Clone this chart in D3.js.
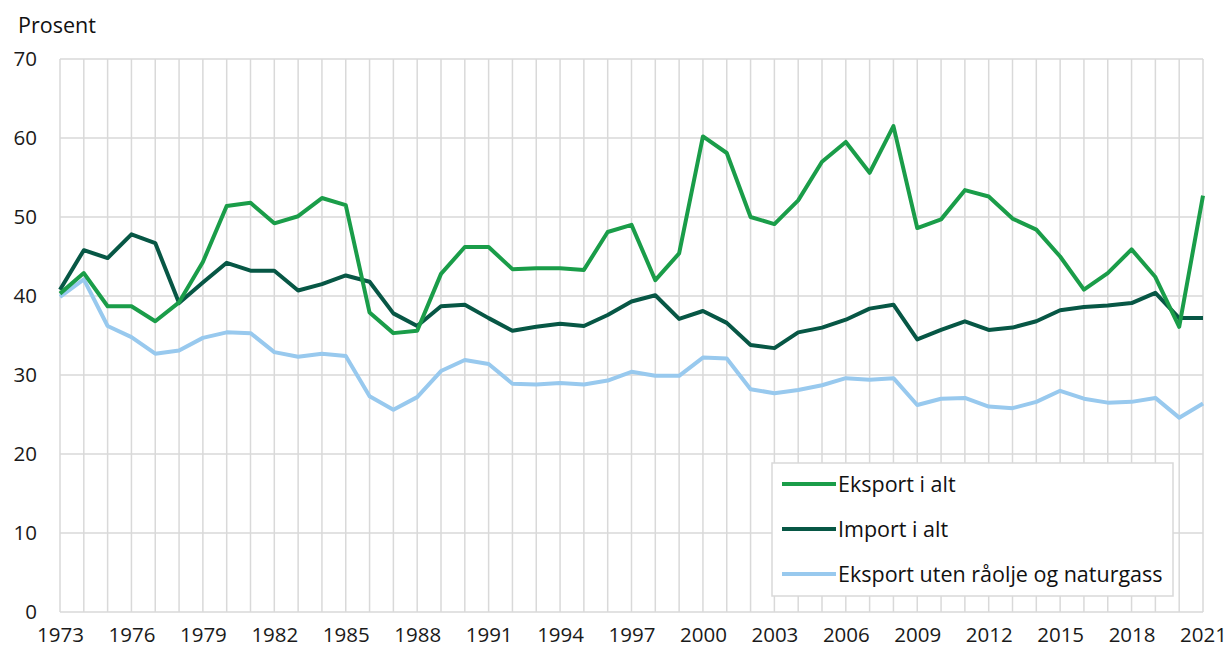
<!DOCTYPE html>
<html><head><meta charset="utf-8">
<script src="https://cdn.jsdelivr.net/npm/d3@7"></script>
<style>body{margin:0;background:#fff}svg{display:block}text{font-family:"Open Sans",sans-serif;fill:#1a1a1a}</style>
</head><body>
<svg id="chart" width="1227" height="653"></svg>
<script>
const years = d3.range(1973, 2022);
const eksport = [40.3,42.9,38.7,38.7,36.8,39.2,44.3,51.4,51.8,49.2,50.1,52.4,51.5,37.9,35.3,35.6,42.8,46.2,46.2,43.4,43.5,43.5,43.3,48.1,49.0,42.0,45.4,60.2,58.1,50.0,49.1,52.1,57.0,59.5,55.6,61.5,48.6,49.7,53.4,52.6,49.8,48.4,45.0,40.8,42.9,45.9,42.4,36.1,52.7];
const importAlt = [40.8,45.8,44.8,47.8,46.7,39.1,41.7,44.2,43.2,43.2,40.7,41.5,42.6,41.8,37.8,36.2,38.7,38.9,37.2,35.6,36.1,36.5,36.2,37.6,39.3,40.1,37.1,38.1,36.6,33.8,33.4,35.4,36.0,37.0,38.4,38.9,34.5,35.7,36.8,35.7,36.0,36.8,38.2,38.6,38.8,39.1,40.4,37.2,37.2];
const eksportUten = [39.9,42.1,36.2,34.8,32.7,33.1,34.7,35.4,35.3,32.9,32.3,32.7,32.4,27.3,25.6,27.2,30.5,31.9,31.4,28.9,28.8,29.0,28.8,29.3,30.4,29.9,29.9,32.2,32.1,28.2,27.7,28.1,28.7,29.6,29.4,29.6,26.2,27.0,27.1,26.0,25.8,26.6,28.0,27.0,26.5,26.6,27.1,24.6,26.4];
const yTicks = [0,10,20,30,40,50,60,70];
const xTickYears = d3.range(1973, 2022, 3);
const seriesNames = ["Eksport i alt","Import i alt","Eksport uten råolje og naturgass"];
const seriesColors = ["#1a9d49","#075745","#98c9ee"];

const svg = d3.select("#chart");
const m = {left:60, right:1203, top:59, bottom:612};
const x = d3.scaleLinear().domain([1973,2021]).range([m.left,m.right]);
const y = d3.scaleLinear().domain([0,70]).range([m.bottom,m.top]);

// gridlines
const g = svg.append("g");
g.selectAll("line.v").data(years).join("line")
  .attr("x1",d=>x(d)).attr("x2",d=>x(d)).attr("y1",m.top).attr("y2",m.bottom)
  .attr("stroke","#d9d9d9").attr("stroke-width",1.5);
g.selectAll("line.h").data(yTicks).join("line")
  .attr("x1",m.left).attr("x2",m.right).attr("y1",d=>y(d)).attr("y2",d=>y(d))
  .attr("stroke","#d9d9d9").attr("stroke-width",1.5);

// axes labels
const yAxis = d3.axisLeft(y).tickValues(yTicks).tickSize(0).tickPadding(23);
svg.append("g").attr("transform",`translate(${m.left},0)`).call(yAxis)
  .call(s=>s.select(".domain").remove())
  .selectAll("text").style("font-size","20.5px").attr("fill","#111").attr("font-family","Open Sans");
const xAxis = d3.axisBottom(x).tickValues(xTickYears).tickFormat(d3.format("d")).tickSize(0).tickPadding(15);
svg.append("g").attr("transform",`translate(0,${m.bottom})`).call(xAxis)
  .call(s=>s.select(".domain").remove())
  .selectAll("text").style("font-size","20.5px").attr("fill","#111").attr("font-family","Open Sans");

svg.append("text").attr("x",18).attr("y",33).style("font-size","21.5px").style("fill","#111").text("Prosent");

// lines
const data = [eksport, importAlt, eksportUten];
const line = d3.line().x((d,i)=>x(years[i])).y(d=>y(d));
[2,1,0].forEach(k=>{
  svg.append("path").datum(data[k]).attr("d",line).attr("fill","none")
    .attr("stroke",seriesColors[k]).attr("stroke-width",4).attr("stroke-linejoin","round");
});

// legend
const lg = svg.append("g");
lg.append("rect").attr("x",772).attr("y",463).attr("width",401).attr("height",133)
  .attr("fill","#fff").attr("stroke","#d9d9d9").attr("stroke-width",1.5);
seriesNames.forEach((n,i)=>{
  const cy = 484 + i*45;
  lg.append("line").attr("x1",782).attr("x2",836).attr("y1",cy).attr("y2",cy)
    .attr("stroke",seriesColors[i]).attr("stroke-width",4);
  lg.append("text").attr("x",838).attr("y",cy+8).style("font-size","21.5px").style("fill","#111").text(n);
});
</script>
</body></html>
